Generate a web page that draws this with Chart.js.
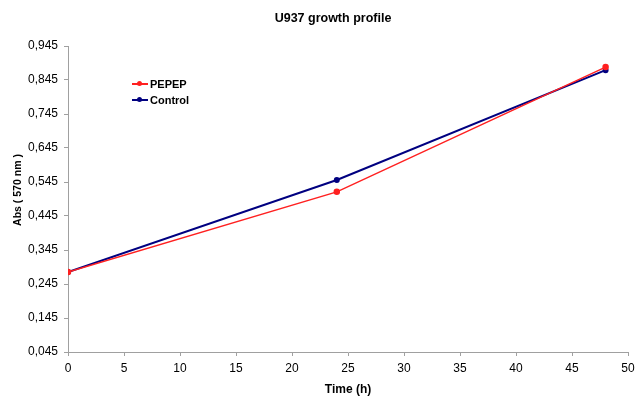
<!DOCTYPE html>
<html>
<head>
<meta charset="utf-8">
<script src="https://cdn.jsdelivr.net/npm/chart.js@4.4.0/dist/chart.umd.min.js"></script>
<style>
  html, body { margin: 0; padding: 0; background: #fff; }
  #wrap { position: relative; width: 637px; height: 397px; font-family: "Liberation Sans", Arial, sans-serif; }
  #title { position: absolute; left: 233px; width: 200px; top: 10px; text-align: center; font-weight: bold; font-size: 12.5px; line-height: 16px; color: #000; }
  #ytitle { position: absolute; left: 17px; top: 190px; width: 120px; margin-left: -60px; margin-top: -7px; line-height: 14px;
            text-align: center; font-weight: bold; font-size: 10.5px; color: #000; transform: rotate(-90deg); white-space: nowrap; }
  #legend { position: absolute; left: 132px; top: 76px; font-weight: bold; font-size: 11px; color: #000; }
  .item { display: flex; align-items: center; height: 16px; }
  .swatch { position: relative; width: 16px; height: 2px; margin-right: 2px; }
  .swatch i { position: absolute; left: 5px; top: -2px; width: 5px; height: 5px; border-radius: 50%; }
</style>
</head>
<body>
<div id="wrap">
  <canvas id="chart" width="637" height="397"></canvas>
  <div id="title">U937 growth profile</div>
  <div id="ytitle">Abs ( 570 nm )</div>
  <div id="legend"></div>
</div>
<script>
const hours = [0, 24, 48];
const pepep = [0.280, 0.516, 0.883];
const control = [0.280, 0.551, 0.874];
const xTicks = [0, 5, 10, 15, 20, 25, 30, 35, 40, 45, 50];
const yTicks = [0.045, 0.145, 0.245, 0.345, 0.445, 0.545, 0.645, 0.745, 0.845, 0.945];

const font = "'Liberation Sans', Arial, sans-serif";
const axisGray = "#a0a0a0";

const datasets = [
  { label: "PEPEP", data: hours.map((h, i) => ({ x: h, y: pepep[i] })),
    borderColor: "#ff2020", backgroundColor: "#ff2020", borderWidth: 1.5, pointRadius: 2.5 },
  { label: "Control", data: hours.map((h, i) => ({ x: h, y: control[i] })),
    borderColor: "#000080", backgroundColor: "#000080", borderWidth: 2, pointRadius: 2 },
];

const legend = document.getElementById("legend");
datasets.forEach(ds => {
  const row = document.createElement("div");
  row.className = "item";
  row.innerHTML = `<span class="swatch" style="background:${ds.borderColor}"><i style="background:${ds.borderColor}"></i></span>${ds.label}`;
  legend.appendChild(row);
});

new Chart(document.getElementById("chart"), {
  type: "line",
  data: { datasets },
  options: {
    responsive: false,
    animation: false,
    layout: { padding: { left: 0, right: 9, top: 46, bottom: 0 } },
    plugins: {
      legend: { display: false },
      tooltip: { enabled: false },
      title: { display: false },
    },
    scales: {
      x: {
        type: "linear",
        min: 0,
        max: 50,
        afterBuildTicks: s => { s.ticks = xTicks.map(v => ({ value: v })); },
        afterFit: s => { s.height = 45; s.paddingRight = 0; s.paddingLeft = 0; },
        grid: { drawOnChartArea: false, drawTicks: true, tickLength: 4, color: axisGray },
        border: { color: axisGray },
        ticks: { color: "#000", font: { family: font, size: 12 }, padding: 5, maxRotation: 0 },
        title: { display: true, text: "Time (h)", color: "#000",
          font: { family: font, size: 12, weight: "bold" }, padding: { top: 0, bottom: 0 } },
      },
      y: {
        type: "linear",
        min: 0.045,
        max: 0.945,
        afterBuildTicks: s => { s.ticks = yTicks.map(v => ({ value: v })); },
        afterFit: s => { s.width = 68; s.paddingTop = 0; s.paddingBottom = 0; },
        grid: { drawOnChartArea: false, drawTicks: true, tickLength: 4, color: axisGray },
        border: { color: axisGray },
        ticks: { color: "#000", font: { family: font, size: 12 }, padding: 6,
          callback: v => v.toFixed(3).replace(".", ",") },
        title: { display: false },
      },
    },
  },
});
</script>
</body>
</html>
